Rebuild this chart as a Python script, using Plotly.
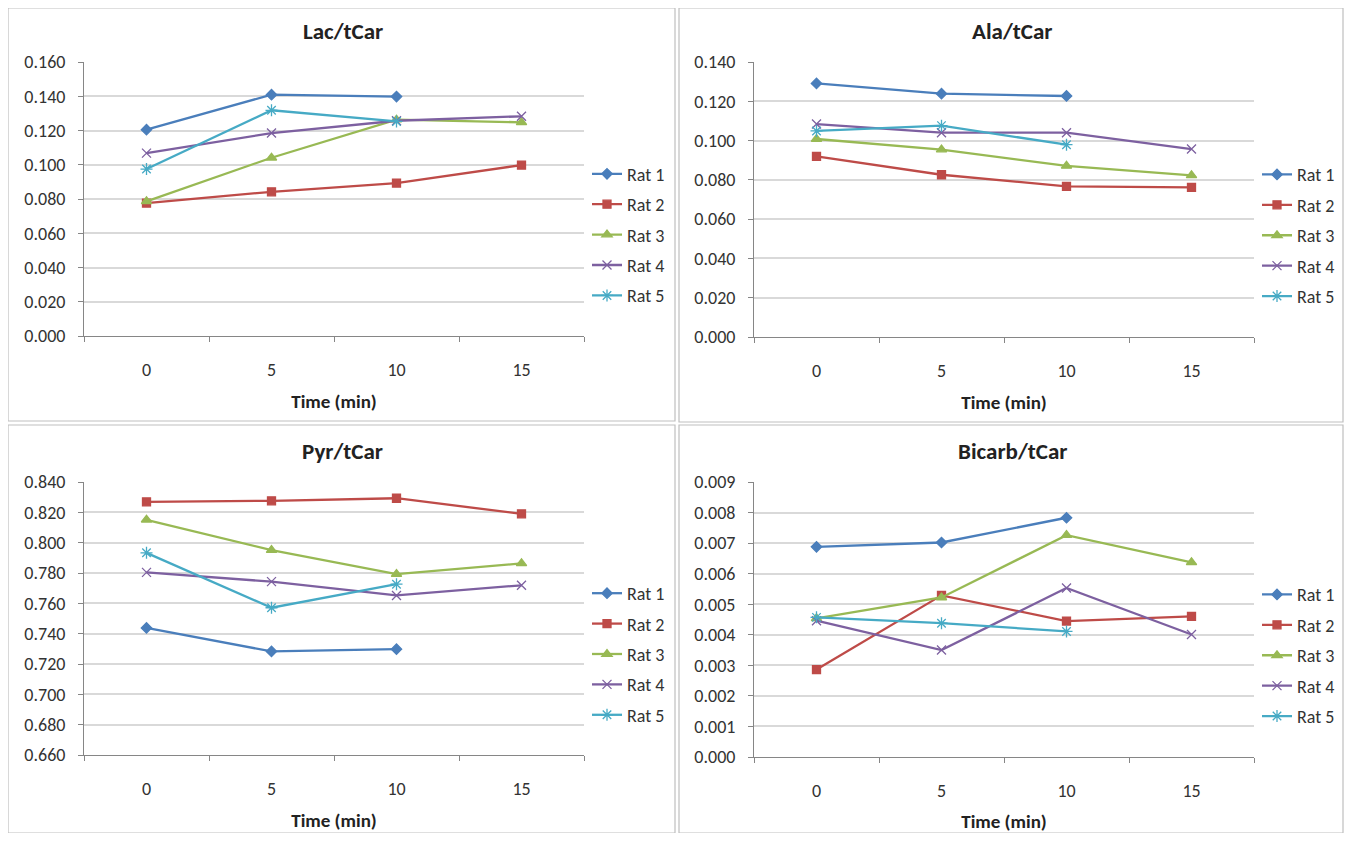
import plotly.graph_objects as go

times = ["0", "5", "10", "15"]
rats = ["Rat 1", "Rat 2", "Rat 3", "Rat 4", "Rat 5"]

lac_rat1 = [0.1205, 0.1409, 0.1398, None]
lac_rat2 = [0.0776, 0.0842, 0.0893, 0.0998]
lac_rat3 = [0.0786, 0.1041, 0.1263, 0.1248]
lac_rat4 = [0.1068, 0.1185, 0.1257, 0.1283]
lac_rat5 = [0.0975, 0.1318, 0.1253, None]

ala_rat1 = [0.1291, 0.1239, 0.1227, None]
ala_rat2 = [0.0920, 0.0826, 0.0767, 0.0762]
ala_rat3 = [0.1008, 0.0954, 0.0871, 0.0823]
ala_rat4 = [0.1084, 0.1040, 0.1040, 0.0957]
ala_rat5 = [0.1049, 0.1076, 0.0979, None]

pyr_rat1 = [0.7438, 0.7283, 0.7298, None]
pyr_rat2 = [0.8269, 0.8276, 0.8293, 0.8190]
pyr_rat3 = [0.8151, 0.7951, 0.7793, 0.7863]
pyr_rat4 = [0.7804, 0.7743, 0.7652, 0.7719]
pyr_rat5 = [0.7933, 0.7571, 0.7726, None]

bic_rat1 = [0.00688, 0.00702, 0.00783, None]
bic_rat2 = [0.00286, 0.00529, 0.00445, 0.00460]
bic_rat3 = [0.00454, 0.00522, 0.00726, 0.00637]
bic_rat4 = [0.00446, 0.00350, 0.00553, 0.00401]
bic_rat5 = [0.00457, 0.00438, 0.00411, None]

titles = ["Lac/tCar", "Ala/tCar", "Pyr/tCar", "Bicarb/tCar"]
panels = [
    [lac_rat1, lac_rat2, lac_rat3, lac_rat4, lac_rat5],
    [ala_rat1, ala_rat2, ala_rat3, ala_rat4, ala_rat5],
    [pyr_rat1, pyr_rat2, pyr_rat3, pyr_rat4, pyr_rat5],
    [bic_rat1, bic_rat2, bic_rat3, bic_rat4, bic_rat5],
]
y_ranges = [(0.0, 0.160, 0.020), (0.0, 0.140, 0.020), (0.660, 0.840, 0.020), (0.0, 0.009, 0.001)]

colors = ["#4A7EBB", "#BE4B48", "#98B954", "#7D60A0", "#46AAC5"]
symbols = ["diamond", "square", "triangle-up", "x-thin-open", "asterisk-open"]
msizes = [8, 8, 9, 9, 10]

OFFX, OFFY = 8, 8  # page body margin
W, H = 1336, 825
FONT = "Carlito, Calibri, Lato, sans-serif"


def fx(px):
    return (px - OFFX) / W


def fy(py):
    return 1 - (py - OFFY) / H


# screen-pixel geometry of each panel: (box x0, y0, x1, y1, plot x0, y0, x1, y1)
geo = [
    (8, 5, 675, 421, 84, 62, 584, 336),
    (679, 5, 1343, 422, 754, 62, 1254, 337),
    (8, 425, 675, 841, 84, 482, 584, 755),
    (679, 425, 1343, 841, 754, 482, 1254, 757),
]

fig = go.Figure()
layout = dict(
    width=W, height=H, margin=dict(l=0, r=0, t=0, b=0, autoexpand=False),
    paper_bgcolor="white", plot_bgcolor="white",
    font=dict(family=FONT, size=18, color="#333333"),
    shapes=[], annotations=[],
)

for p in range(4):
    bx0, by0, bx1, by1, px0, py0, px1, py1 = geo[p]
    sfx = "" if p == 0 else str(p + 1)
    xa, ya = "xaxis" + sfx, "yaxis" + sfx
    lg = "legend" + sfx
    for r in range(5):
        fig.add_trace(go.Scatter(
            x=times, y=panels[p][r], name=rats[r], mode="lines+markers",
            xaxis="x" + sfx, yaxis="y" + sfx, legend=lg,
            legendgroup=f"p{p}r{r}",
            line=dict(color=colors[r], width=2.3),
            marker=dict(symbol=symbols[r], size=msizes[r], color=colors[r],
                        line=dict(color=colors[r], width=1.3)),
            connectgaps=False,
        ))
    y0, y1, dt = y_ranges[p]
    layout[xa] = dict(
        domain=[fx(px0), fx(px1)], anchor="y" + sfx, type="category", automargin=False,
        range=[-0.5, 3.5], tickson="boundaries", ticks="outside", ticklen=5,
        tickcolor="#868686", showline=True, linecolor="#868686", linewidth=1,
        showgrid=False, ticklabelstandoff=17,
        tickfont=dict(size=18, color="#333333"),
        title=dict(text="<b>Time (min)</b>", font=dict(size=19, color="#222222"), standoff=15),
    )
    layout[ya] = dict(
        domain=[fy(py1), fy(py0)], anchor="x" + sfx, automargin=False,
        range=[y0, y1], dtick=dt, tick0=y0, tickformat=".3f",
        ticks="outside", ticklen=5, tickcolor="#868686", ticklabelstandoff=9,
        showline=True, linecolor="#868686", linewidth=1,
        showgrid=True, gridcolor="#D9D9D9", gridwidth=1.5, zeroline=False,
        tickfont=dict(size=18, color="#333333"),
    )
    layout[lg] = dict(
        x=fx(px1 + 3), xanchor="left", y=fy(py0 + (py1 - py0) * 0.63), yanchor="middle",
        tracegroupgap=4, font=dict(size=18, color="#333333"),
        bgcolor="rgba(0,0,0,0)", itemwidth=30,
    )
    layout["shapes"].append(dict(
        type="rect", xref="paper", yref="paper",
        x0=fx(bx0), x1=fx(bx1), y0=max(fy(by1), 0.0), y1=min(fy(by0), 1.0),
        line=dict(color="#BFBFBF", width=1.2), fillcolor="rgba(0,0,0,0)", layer="below",
    ))
    layout["annotations"].append(dict(
        text="<b>" + titles[p] + "</b>", xref="paper", yref="paper",
        x=fx((bx0 + bx1) / 2 + 1), y=fy(by0 + 26), xanchor="center", yanchor="middle",
        showarrow=False, font=dict(size=23, color="#222222"),
    ))

fig.update_layout(**layout)
fig.write_html("out.html")
